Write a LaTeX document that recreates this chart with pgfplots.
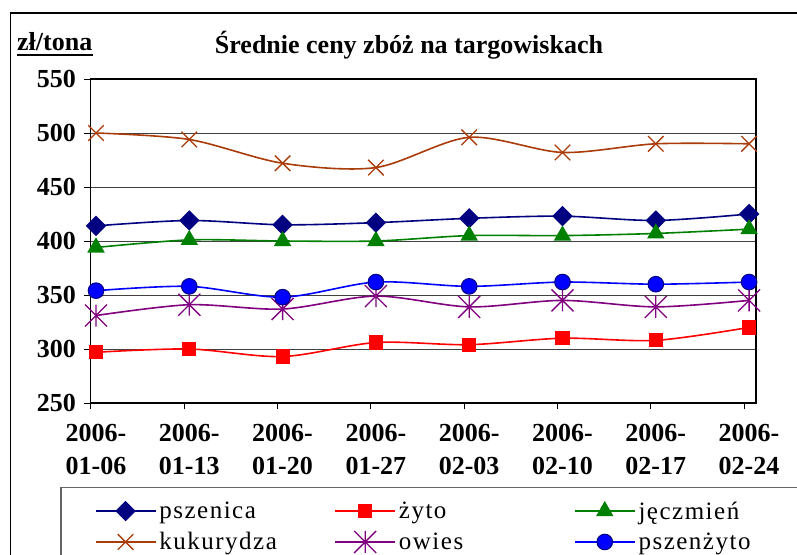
\documentclass[border=0pt]{standalone}
\usepackage{fontspec}
\setmainfont{Liberation Serif}
\usepackage{pgfplots}
\pgfplotsset{compat=1.18}
\definecolor{cPsz}{RGB}{0,0,128}
\definecolor{cZyto}{RGB}{255,0,0}
\definecolor{cJecz}{RGB}{0,128,0}
\definecolor{cKuk}{RGB}{170,60,10}
\definecolor{cOw}{RGB}{128,0,128}
\definecolor{cPszz}{RGB}{0,0,255}
\pgfdeclareplotmark{xstar}{%
  \pgfpathmoveto{\pgfqpoint{-\pgfplotmarksize}{-\pgfplotmarksize}}%
  \pgfpathlineto{\pgfqpoint{\pgfplotmarksize}{\pgfplotmarksize}}%
  \pgfpathmoveto{\pgfqpoint{-\pgfplotmarksize}{\pgfplotmarksize}}%
  \pgfpathlineto{\pgfqpoint{\pgfplotmarksize}{-\pgfplotmarksize}}%
  \pgfpathmoveto{\pgfqpoint{0pt}{-\pgfplotmarksize}}%
  \pgfpathlineto{\pgfqpoint{0pt}{\pgfplotmarksize}}%
  \pgfusepathqstroke}
\begin{document}
\begin{tikzpicture}
\useasboundingbox (-90.5pt,-151pt) rectangle (706.5pt,403pt);
\draw[line width=1.5pt] (-80pt,390pt) rectangle (730pt,-170pt);
\node[font=\fontsize{26}{30}\selectfont\bfseries] at (318.5pt,358pt) {Średnie ceny zbóż na targowiskach};
\node[font=\fontsize{26}{30}\selectfont\bfseries, anchor=base west, inner sep=0pt] (u) at (-73.5pt,352pt) {zł/tona};
\draw[line width=2.5pt] ([yshift=-4pt]u.base west) -- ([yshift=-4pt]u.base east);
\begin{axis}[
  at={(0pt,0pt)}, anchor=south west, scale only axis,
  width=665.5pt, height=324pt,
  xmin=-0.059, xmax=7.074, ymin=250, ymax=550,
  xtick={-0.054,0.946,1.946,2.946,3.946,4.946,5.946,6.946},
  xticklabels={{2006-\\01-06},{2006-\\01-13},{2006-\\01-20},{2006-\\01-27},{2006-\\02-03},{2006-\\02-10},{2006-\\02-17},{2006-\\02-24}},
  ytick={250,300,...,550},
  tick align=outside, major tick length=6pt,
  tick style={black, line width=1pt},
  xtick pos=bottom, ytick pos=left,
  axis line style={black, line width=1.5pt},
  ymajorgrids, grid style={black!75, line width=1pt},
  /pgf/number format/assume math mode=true,
  tick label style={font=\fontsize{26}{33}\selectfont\bfseries},
  xticklabel style={align=center, xshift=5pt, yshift=-12pt},
  yticklabel style={xshift=-5pt},
  legend columns=3,
  legend style={at={(-0.0458,-0.259)}, anchor=north west,
    draw=black!60, line width=1.5pt, inner xsep=34pt, inner ysep=11pt,
    font=\fontsize{25}{28}\selectfont\addfontfeatures{LetterSpace=6}, row sep=6pt,
    nodes={text width=172pt, align=left, inner sep=3pt, line width=1.5pt}},
  legend cell align=left,
  legend image code/.code={\draw[mark repeat=2,mark phase=2] plot coordinates {(0pt,0pt) (30pt,0pt) (60pt,0pt)};},
  every axis plot/.append style={line width=1.6pt, smooth, tension=0.5},
]
\addplot[cPsz, mark=square*, mark size=6.4pt, mark options={rotate=45, solid, fill=cPsz}]
  coordinates {(0,414) (1,419) (2,415) (3,417) (4,421) (5,423) (6,419) (7,425)};
\addlegendentry{pszenica}
\addplot[cZyto, mark=square*, mark size=6.3pt, mark options={solid, fill=cZyto}]
  coordinates {(0,297) (1,300) (2,293) (3,306) (4,304) (5,310) (6,308) (7,320)};
\addlegendentry{żyto}
\addplot[cJecz, mark=triangle*, mark size=8.5pt, mark options={solid, fill=cJecz}]
  coordinates {(0,394) (1,401) (2,400) (3,400) (4,405) (5,405) (6,407) (7,411)};
\addlegendentry{jęczmień}
\addplot[cKuk, mark=x, mark size=11pt, mark options={solid, line width=1.3pt}]
  coordinates {(0,500) (1,494) (2,472) (3,468) (4,496) (5,482) (6,490) (7,490)};
\addlegendentry{kukurydza}
\addplot[cOw, mark=xstar, mark size=11pt, mark options={solid, line width=1.3pt}]
  coordinates {(0,331) (1,341) (2,337) (3,349) (4,339) (5,345) (6,339) (7,345)};
\addlegendentry{owies}
\addplot[cPszz, mark=*, mark size=7.8pt, mark options={solid, fill=cPszz, draw=cPsz, line width=1pt}]
  coordinates {(0,354) (1,358) (2,348) (3,362) (4,358) (5,362) (6,360) (7,362)};
\addlegendentry{pszenżyto}
\end{axis}
\end{tikzpicture}
\end{document}
